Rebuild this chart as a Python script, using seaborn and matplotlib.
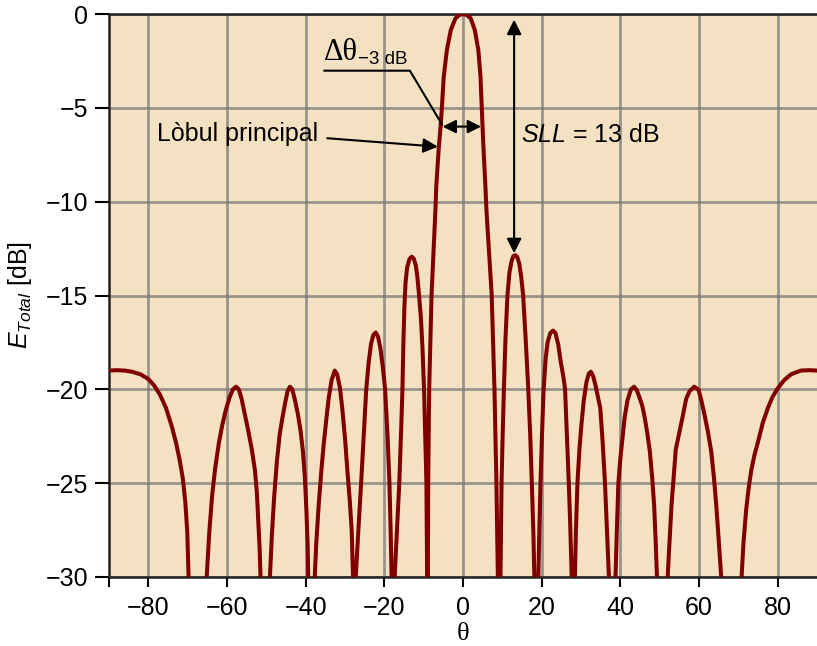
import numpy as np
import pandas as pd
import matplotlib
matplotlib.use("Agg")
import matplotlib.pyplot as plt
import seaborn as sns

# pattern, lobe by lobe (theta in degrees, level in dB)
# points at -45 dB are the nulls, they get clipped at the -30 dB floor
theta = [
    -90, -88, -86, -84, -82, -80, -78.5, -77, -75.5, -74, -72.9, -72, -71.2, -70.6, -70.1, -69.7,
    -67.5,
    -65.3, -64.5, -63.8, -63.0, -62.1, -61.2, -60.3, -59.3, -58.5, -57.7, -57.0, -56.3, -55.5,
    -54.6, -53.7, -52.9, -52.4, -52.1, -51.7, -51.4,
    -50.3,
    -49.2, -48.6, -48.0, -47.3, -46.6, -45.9, -45.2, -44.6, -44.0, -43.4, -42.7, -42.0, -41.3,
    -40.7, -40.2, -39.8, -39.5, -39.3,
    -38.5,
    -37.8, -37.3, -36.7, -36.0, -35.4, -34.7, -34.1, -33.4, -32.6, -32.0, -31.3, -30.7, -30.0,
    -29.4, -28.8, -28.3, -27.9,
    -27.65,
    -27.4, -26.6, -25.9, -25.2, -24.6, -24.0, -23.4, -22.8, -22.2, -21.6, -21.0, -20.4, -19.8,
    -19.2, -18.7, -18.4, -18.1,
    -17.8,
    -17.5, -16.8, -16.2, -15.7, -15.4, -15.15, -14.9, -14.6, -14.2, -13.6, -13.0, -12.5, -12.0,
    -11.6, -11.25, -10.7, -10.3, -9.9, -9.6, -9.3, -9.1,
    -9.0,
    -8.95, -8.85, -8.6, -8.0, -7.0, -6.8, -6.2, -5.7, -5.4, -4.9, -4.1, -3.1, -1.9, -1.0,
    0.0,
    1.0, 1.95, 3.0, 3.9, 4.45, 4.8, 5.15, 5.7, 5.95, 7.3, 8.0, 8.5, 8.9,
    9.2,
    9.5, 9.8, 10.1, 10.4, 10.8, 11.3, 11.8, 12.3, 12.8, 13.3, 13.8, 14.3, 14.8, 15.3, 15.9,
    16.6, 17.1, 17.5, 17.9, 18.2,
    18.6,
    19.1, 19.4, 19.7, 20.1, 20.5, 21.0, 21.5, 22.2, 22.9, 23.5, 24.2, 24.9, 25.5, 25.95,
    26.4, 26.9, 27.3, 27.7,
    28.05,
    28.4, 28.7, 29.1, 29.6, 30.1, 30.7, 31.4, 32.0, 32.5, 33.1, 33.7, 34.3, 34.9, 35.5,
    36.1, 36.6, 37.2,
    37.9,
    38.7, 39.1, 39.5, 40.0, 40.45, 41.1, 41.8, 42.7, 43.5, 44.2, 44.9, 45.6, 46.2, 46.9,
    47.5, 48.1, 48.6, 49.0, 49.4,
    50.6,
    51.9, 52.5, 53.0, 53.6, 54.1, 55.0, 55.9, 56.75, 57.6, 58.8, 59.9, 60.6, 61.45, 62.3,
    63.1, 63.8, 64.4, 65.1, 65.8,
    68.2,
    70.7, 71.3, 72.0, 72.6, 73.3, 74.1, 75.0, 76.2, 77.5, 78.7, 80.0, 81.7, 83.4, 85.9, 88, 90,
]
level_db = [
    -19.0, -18.98, -19.0, -19.07, -19.2, -19.45, -19.8, -20.3, -21.0, -22.0, -22.9, -23.8, -24.8, -26.0, -27.6, -30.5,
    -45,
    -30.5, -27.6, -25.7, -24.2, -22.9, -21.9, -21.1, -20.4, -20.0, -19.86, -20.0, -20.5, -21.3,
    -22.2, -23.2, -24.3, -25.5, -26.8, -28.5, -30.5,
    -45,
    -30.5, -27.8, -25.7, -23.8, -22.4, -21.5, -20.7, -20.1, -19.86, -20.0, -20.6, -21.3, -22.2,
    -23.3, -24.7, -26.5, -28.3, -30.5,
    -45,
    -30.5, -28.2, -26.2, -24.3, -22.9, -21.5, -20.4, -19.5, -19.0, -19.2, -19.9, -21.0, -22.6,
    -24.3, -25.9, -27.5, -30.5,
    -45,
    -30.5, -27.5, -25.0, -22.3, -20.0, -18.6, -17.6, -17.1, -16.97, -17.2, -17.8, -18.8, -20.0,
    -22.4, -25.0, -27.5, -30.5,
    -45,
    -30.5, -27.5, -25.0, -22.0, -20.0, -17.5, -15.6, -14.3, -13.5, -13.05, -12.93, -13.05, -13.4,
    -14.0, -14.8, -16.2, -17.8, -20.0, -22.5, -25.0, -30.5,
    -45,
    -30.5, -25.0, -20.0, -15.0, -10.4, -9.2, -7.25, -6.0, -5.1, -3.34, -1.92, -0.85, -0.23, -0.06,
    0.0,
    -0.06, -0.23, -0.85, -1.92, -3.34, -5.1, -6.9, -9.2, -10.4, -15.0, -20.0, -25.0, -30.5,
    -45,
    -30.5, -25.0, -22.3, -20.0, -17.3, -15.0, -13.8, -13.2, -12.9, -12.85, -12.95, -13.3, -14.0, -15.0, -17.2,
    -20.0, -22.5, -25.0, -27.7, -30.5,
    -45,
    -30.5, -27.6, -25.0, -22.3, -20.0, -18.4, -17.5, -17.0, -16.87, -17.0, -17.6, -18.6, -19.3, -20.0,
    -22.3, -25.0, -27.5, -30.5,
    -45,
    -30.5, -27.6, -25.0, -23.2, -21.9, -20.6, -19.6, -19.15, -19.06, -19.3, -19.8, -20.4, -21.0, -22.8,
    -25.0, -27.5, -30.5,
    -45,
    -30.5, -27.6, -25.0, -23.7, -22.8, -21.5, -20.6, -20.0, -19.86, -20.05, -20.45, -20.9, -21.5, -22.4,
    -23.3, -24.7, -26.2, -28.2, -30.5,
    -45,
    -30.5, -28.2, -26.2, -24.6, -23.2, -22.3, -21.4, -20.5, -20.1, -19.86, -20.03, -20.6, -21.4, -22.3,
    -23.3, -24.7, -26.2, -28.3, -30.5,
    -45,
    -30.5, -28.2, -26.4, -25.3, -24.3, -23.5, -22.8, -21.8, -21.0, -20.4, -19.95, -19.5, -19.2, -19.0, -18.98, -19.0,
]
x_ticks = [-80, -60, -40, -20, 0, 20, 40, 60, 80]
y_ticks = [0, -5, -10, -15, -20, -25, -30]

df = pd.DataFrame({"theta": theta, "E": level_db})

sns.set_theme(style="ticks")
plt.rcParams["font.family"] = ["Liberation Sans", "DejaVu Sans"]
plt.rcParams["mathtext.fontset"] = "custom"
plt.rcParams["mathtext.rm"] = "Liberation Sans"
plt.rcParams["mathtext.it"] = "Liberation Sans:italic"
for key in ["text.color", "axes.labelcolor", "xtick.color", "ytick.color"]:
    plt.rcParams[key] = "black"

fig = plt.figure(figsize=(8.17, 6.46), dpi=100)
ax = fig.add_axes([109 / 817, 69 / 646, 708 / 817, 563 / 646])
ax.set_facecolor("#f4e1c2")

sns.lineplot(data=df, x="theta", y="E", ax=ax, color="#800000", lw=2.9,
             estimator=None, sort=False, zorder=3, solid_joinstyle="round")

ax.set_xlim(-90, 90)
ax.set_ylim(-30, 0)
ax.set_xticks(x_ticks)
ax.set_yticks(y_ticks)
ax.set_xticks([-90], minor=True)
ax.grid(True, color="#7a7a7a", lw=2, alpha=0.75)
ax.tick_params(axis="x", which="both", length=7, width=1.5, pad=7, labelsize=18, color="black")
ax.tick_params(axis="y", length=10, width=1.5, pad=5, labelsize=18, color="black")
for side in ["left", "bottom", "top"]:
    ax.spines[side].set_color("#222222")
    ax.spines[side].set_linewidth(1.8)
ax.spines["right"].set_visible(False)

ax.set_xlabel("θ", family=["Liberation Serif", "DejaVu Serif"], fontsize=19, labelpad=2)
ax.set_ylabel(r"$E_{Total}$ [dB]", fontsize=18, labelpad=8)

# annotations
ax.text(-77.7, -6.75, "Lòbul principal", fontsize=18, ha="left", va="baseline")
ax.annotate("", xy=(-6.4, -7.07), xytext=(-34.5, -6.62),
            arrowprops=dict(arrowstyle="-|>", color="black", lw=1.5,
                            mutation_scale=22, shrinkA=0, shrinkB=0))

ax.text(-35.3, -2.45, "Δθ", family=["Liberation Serif", "DejaVu Serif"], fontsize=22,
        ha="left", va="baseline")
ax.text(-26.8, -2.68, "−3 dB", fontsize=13.5, ha="left", va="baseline")
ax.plot([-35.3, -13.5, -5.3], [-3.02, -3.02, -5.9], color="black", lw=1.5, zorder=4)
ax.annotate("", xy=(4.6, -6.0), xytext=(-5.2, -6.0),
            arrowprops=dict(arrowstyle="<|-|>", color="black", lw=1.5,
                            mutation_scale=20, shrinkA=0, shrinkB=0), zorder=5)

ax.annotate("", xy=(13.0, -12.75), xytext=(13.0, -0.3),
            arrowprops=dict(arrowstyle="<|-|>", color="black", lw=1.5,
                            mutation_scale=22, shrinkA=0, shrinkB=0), zorder=5)
ax.text(14.85, -6.84, r"$\mathit{SLL}$ = 13 dB", fontsize=18, ha="left", va="baseline")

fig.savefig("out.png", dpi=100, facecolor="white")
